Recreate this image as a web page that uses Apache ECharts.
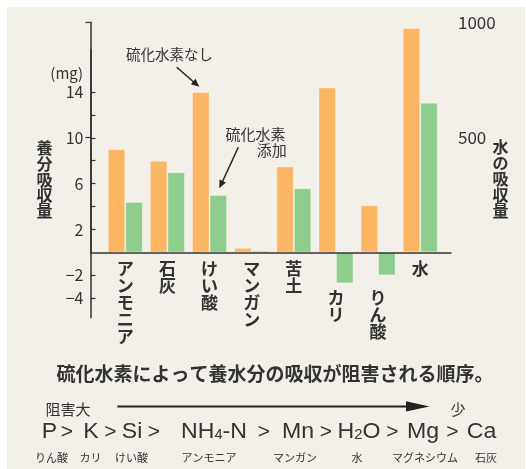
<!DOCTYPE html>
<html>
<head>
<meta charset="UTF-8">
<script src="https://cdn.jsdelivr.net/npm/echarts@6/dist/echarts.min.js"></script>
<style>
    html, body { margin: 0; padding: 0; background: #fff; }
    #wrap { position: relative; width: 526px; height: 469px; overflow: hidden; }
    #panel { position: absolute; left: 7px; top: 7px; width: 518px; height: 462px; background: #f2f0e8; }
    #chart { position: absolute; left: 0; top: 0; width: 526px; height: 469px; }
</style>
</head>
<body>
<div id="wrap">
    <div id="panel"></div>
    <div id="chart"></div>
</div>
<script>
    // 養分吸収量 (mg)
    var categories = ['アンモニア', '石灰', 'けい酸', 'マンガン', '苦土', 'カリ', 'りん酸', '水'];
    var noH2S = [9.0, 8.0, 14.0, 0.4, 7.5, 14.4, 4.1, '-'];
    var withH2S = [4.4, 7.0, 5.0, 0.15, 5.6, -2.7, -2.0, '-'];
    // 水の吸収量 (right axis)
    var waterNoH2S = ['-', '-', '-', '-', '-', '-', '-', 975];
    var waterWithH2S = ['-', '-', '-', '-', '-', '-', '-', 650];
    // tick marks / labels
    var leftTicks = [-4, -2, 2, 4, 6, 8, 10, 12, 14];
    var leftLabels = [14, 10, 6, 2, -2, -4];
    // 阻害される順序
    var orderSymbols = ['P', 'K', 'Si', 'NH{s|4}-N', 'Mn', 'H{s|2}O', 'Mg', 'Ca'];
    var orderNames = ['りん酸', 'カリ', 'けい酸', 'アンモニア', 'マンガン', '水', 'マグネシウム', '石灰'];

    // layout of the order row (px)
    var symX = [49.5, 91, 132, 214, 298, 359, 423, 481.5];
    var gtX = [67, 110.5, 154, 264, 326, 392.5, 452.5];
    var nameX = [51.5, 90.5, 131.5, 209, 295, 357, 425, 486];

    var orange = '#fcb663';
    var green = '#8fcd8d';
    var ink = '#333';
    var jp = '"Noto Sans CJK JP", sans-serif';
    var latin = '"Liberation Sans", sans-serif';

    var chart = echarts.init(document.getElementById('chart'));

    function txt(x, y, text, size, weight, extra, sx) {
        var st = {
            text: text, x: 0, y: 0, fill: ink, fontSize: size, fontFamily: jp,
            fontWeight: weight || 'normal', align: 'center', textAlign: 'center',
            verticalAlign: 'middle', textVerticalAlign: 'middle'
        };
        for (var k in (extra || {})) st[k] = extra[k];
        return {type: 'text', x: x, y: y, scaleX: sx || 1, style: st, z: 100};
    }

    var graphics = [];
    graphics.push(txt(66.7, 73.5, '(mg)', 15));
    graphics.push(txt(44.6, 179.5, '養\n分\n吸\n収\n量', 16, 'bold', {lineHeight: 15.8}));
    graphics.push(txt(500.6, 179, '水\nの\n吸\n収\n量', 16, 'bold', {lineHeight: 15.8}));
    graphics.push(txt(169.5, 54.5, '硫化水素なし', 14.5));
    graphics.push(txt(255.5, 134, '硫化水素', 15));
    graphics.push(txt(286.7, 150.5, '添加', 15, 'normal', {align: 'right', textAlign: 'right'}));
    // annotation arrows
    graphics.push({type: 'line', shape: {x1: 176.7, y1: 67.3, x2: 194, y2: 82.2}, style: {stroke: '#222', lineWidth: 1.5}, z: 100});
    graphics.push({type: 'polygon', shape: {points: [[199.3, 86.7], [190.9, 84.2], [195.5, 78.8]]}, style: {fill: '#222'}, z: 100});
    graphics.push({type: 'line', shape: {x1: 238.3, y1: 147.3, x2: 222.5, y2: 181.5}, style: {stroke: '#222', lineWidth: 1.5}, z: 100});
    graphics.push({type: 'polygon', shape: {points: [[219.3, 188.3], [219.5, 179.5], [225.9, 182.5]]}, style: {fill: '#222'}, z: 100});

    // bottom caption
    graphics.push(txt(275, 374, '硫化水素によって養水分の吸収が阻害される順序。', 19, 'bold'));
    graphics.push(txt(68, 409.5, '阻害大', 15));
    graphics.push(txt(458, 409.5, '少', 15));
    graphics.push({type: 'line', shape: {x1: 117.4, y1: 406.4, x2: 410, y2: 406.4}, style: {stroke: '#222', lineWidth: 2}, z: 100});
    graphics.push({type: 'polygon', shape: {points: [[406, 401.2], [429.5, 406.4], [406, 411.6]]}, style: {fill: '#222'}, z: 100});

    orderSymbols.forEach(function (s, i) {
        graphics.push(txt(symX[i], 432, s, 22, 'normal', {
            fontFamily: latin,
            rich: {s: {fontSize: 14, fontFamily: latin, fill: ink, padding: [6, 0, 0, 0]}}
        }, 1.05));
    });
    gtX.forEach(function (x) {
        graphics.push(txt(x, 432, '>', 21, 'normal', {fontFamily: latin}));
    });
    orderNames.forEach(function (n, i) {
        graphics.push(txt(nameX[i], 458, n, 11));
    });

    var axisLineStyle = {color: ink, width: 1.5};

    var option = {
        animation: false,
        textStyle: {fontFamily: jp},
        grid: [
            {left: 104.2, width: 337.1, top: 49.6, height: 268.1},
            {left: 104.2, width: 337.1, top: 22.3, height: 230},
            {left: 90.5, width: 360.5, top: 49.6, height: 268.1},
            {left: 90.5, width: 360.5, top: 22.3, height: 230}
        ],
        xAxis: [
            {gridIndex: 0, type: 'category', data: categories, show: false},
            {
                // labels sit on the zero line, which is this grid's bottom
                gridIndex: 1, type: 'category', data: categories,
                axisLine: {show: false}, axisTick: {show: false},
                axisLabel: {
                    interval: 0, margin: 8, color: ink, fontSize: 17, lineHeight: 17,
                    fontWeight: 'bold', fontFamily: jp,
                    formatter: function (v, i) {
                        var s = v.split('').join('\n');
                        return withH2S[i] < 0 ? '{g| }\n' + s : s;
                    },
                    rich: {g: {fontSize: 1, lineHeight: 29}}
                }
            },
            {
                gridIndex: 2, type: 'value', min: 0, max: 1, z: 5,
                axisLine: {show: true, onZero: true, lineStyle: axisLineStyle},
                axisTick: {show: false}, axisLabel: {show: false}, splitLine: {show: false}
            },
            {gridIndex: 3, type: 'value', min: 0, max: 1, show: false}
        ],
        yAxis: [
            {gridIndex: 0, type: 'value', min: -5.7, max: 17.7, show: false},
            {gridIndex: 1, type: 'value', min: 0, max: 1000, show: false},
            {
                gridIndex: 2, type: 'value', min: -5.7, max: 17.7, position: 'left', z: 5,
                axisLine: {show: true, lineStyle: axisLineStyle},
                axisTick: {show: true, inside: true, length: 5, customValues: leftTicks, lineStyle: {color: ink, width: 1.2}},
                axisLabel: {
                    customValues: leftLabels, margin: 7, color: ink, fontSize: 16,
                    formatter: function (v) { return v < 0 ? '\u2212' + (-v) : String(v); }
                },
                splitLine: {show: false}
            },
            {
                gridIndex: 3, type: 'value', min: 0, max: 1000, interval: 500, position: 'right', z: 5,
                axisLine: {show: true, lineStyle: axisLineStyle},
                axisTick: {show: true, inside: true, length: 5, lineStyle: {color: ink, width: 1.2}},
                axisLabel: {
                    showMinLabel: false, margin: 7, color: ink, fontSize: 17,
                    formatter: function (v) { return String(v); }
                },
                splitLine: {show: false}
            }
        ],
        series: [
            {
                name: '硫化水素なし', type: 'bar', xAxisIndex: 0, yAxisIndex: 0, data: noH2S,
                barWidth: 17.5, barGap: '0%',
                itemStyle: {color: orange, borderColor: 'rgba(255,255,255,0.3)', borderWidth: 1}
            },
            {
                name: '硫化水素添加', type: 'bar', xAxisIndex: 0, yAxisIndex: 0, data: withH2S,
                barWidth: 17.5, barGap: '0%',
                itemStyle: {color: green, borderColor: 'rgba(255,255,255,0.3)', borderWidth: 1}
            },
            {
                name: '水 硫化水素なし', type: 'bar', xAxisIndex: 1, yAxisIndex: 1, data: waterNoH2S,
                barWidth: 17.5, barGap: '0%',
                itemStyle: {color: orange, borderColor: 'rgba(255,255,255,0.3)', borderWidth: 1}
            },
            {
                name: '水 硫化水素添加', type: 'bar', xAxisIndex: 1, yAxisIndex: 1, data: waterWithH2S,
                barWidth: 17.5, barGap: '0%',
                itemStyle: {color: green, borderColor: 'rgba(255,255,255,0.3)', borderWidth: 1}
            }
        ],
        graphic: graphics
    };

    chart.setOption(option);
</script>
</body>
</html>
